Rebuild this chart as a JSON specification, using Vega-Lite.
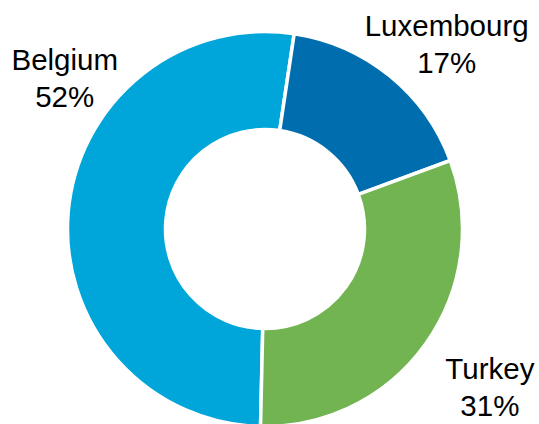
{
  "$schema": "https://vega.github.io/schema/vega-lite/v6.json",
  "width": 530,
  "height": 390,
  "autosize": "none",
  "padding": {"left": 0, "top": 34, "right": 9, "bottom": 0},
  "background": "white",
  "view": {"stroke": null},
  "data": {
    "values": [
      {"country": "Belgium", "share": 52, "label": "Belgium\n52%"},
      {"country": "Luxembourg", "share": 17, "label": "Luxembourg\n17%"},
      {"country": "Turkey", "share": 31, "label": "Turkey\n31%"}
    ]
  },
  "encoding": {
    "theta": {"field": "share", "type": "quantitative", "stack": true, "scale": {"range": [3.1643, 9.4475]}},
    "order": {"field": "country", "sort": "ascending"}
  },
  "layer": [
    {
      "mark": {"type": "arc", "innerRadius": 99.5, "outerRadius": 197.5, "stroke": "white", "strokeWidth": 3.5},
      "encoding": {
        "color": {
          "field": "country",
          "type": "nominal",
          "scale": {"domain": ["Belgium", "Luxembourg", "Turkey"], "range": ["#00A6DA", "#006EAE", "#72B451"]},
          "legend": null
        }
      }
    },
    {
      "mark": {"type": "text", "radius": 250, "dx": 24, "dy": -7.5, "fontSize": 29.5, "font": "Liberation Sans", "lineHeight": 37, "lineBreak": "\n", "align": "center", "baseline": "middle", "color": "black"},
      "encoding": {
        "text": {"condition": {"test": "datum.country === 'Luxembourg'", "field": "label"}, "value": ""}
      }
    },
    {
      "mark": {"type": "text", "radius": 275, "dx": 1, "dy": -18.5, "fontSize": 29.5, "font": "Liberation Sans", "lineHeight": 37, "lineBreak": "\n", "align": "center", "baseline": "middle", "color": "black"},
      "encoding": {
        "text": {"condition": {"test": "datum.country === 'Turkey'", "field": "label"}, "value": ""}
      }
    },
    {
      "mark": {"type": "text", "radius": 200, "dx": -1, "dy": -150.5, "fontSize": 29.5, "font": "Liberation Sans", "lineHeight": 37, "lineBreak": "\n", "align": "center", "baseline": "middle", "color": "black"},
      "encoding": {
        "text": {"condition": {"test": "datum.country === 'Belgium'", "field": "label"}, "value": ""}
      }
    }
  ]
}
